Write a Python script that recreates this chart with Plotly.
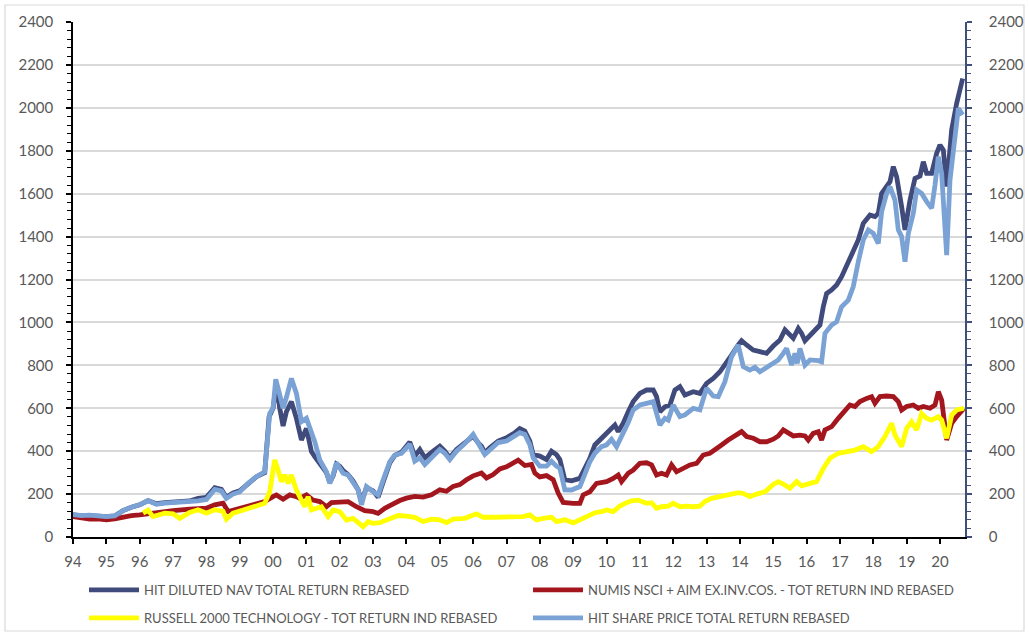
import plotly.graph_objects as go

# ---------------- data (fractional years) ----------------
nav_x = [1994.0, 1994.25, 1994.5, 1994.75, 1995.0, 1995.25, 1995.5, 1995.75, 1996.0, 1996.25, 1996.5, 1996.75,
         1997.0, 1997.25, 1997.5, 1997.75, 1998.0, 1998.25, 1998.45, 1998.6, 1998.8, 1999.0, 1999.25, 1999.5,
         1999.75, 1999.88, 2000.0, 2000.1, 2000.2, 2000.3, 2000.4, 2000.55, 2000.7, 2000.85, 2001.0, 2001.15,
         2001.25, 2001.4, 2001.6, 2001.7, 2001.8, 2001.9, 2002.0, 2002.1, 2002.25, 2002.4, 2002.55, 2002.65,
         2002.8, 2003.0, 2003.15, 2003.3, 2003.5, 2003.65, 2003.85, 2004.1, 2004.25, 2004.4, 2004.55, 2004.8,
         2005.0, 2005.15, 2005.3, 2005.5, 2005.75, 2006.0, 2006.15, 2006.25, 2006.35, 2006.5, 2006.75, 2007.0,
         2007.25, 2007.4, 2007.55, 2007.7, 2007.8, 2008.0, 2008.2, 2008.35, 2008.5, 2008.6, 2008.75, 2008.95,
         2009.2, 2009.35, 2009.5, 2009.65, 2009.85, 2010.0, 2010.15, 2010.25, 2010.35, 2010.5, 2010.65, 2010.8,
         2011.0, 2011.2, 2011.4, 2011.5, 2011.6, 2011.75, 2011.9, 2012.05, 2012.2, 2012.35, 2012.6, 2012.8,
         2013.0, 2013.2, 2013.4, 2013.55, 2013.75, 2013.95, 2014.05, 2014.2, 2014.4, 2014.6, 2014.8, 2015.0,
         2015.2, 2015.35, 2015.45, 2015.6, 2015.75, 2015.85, 2015.95, 2016.1, 2016.3, 2016.4, 2016.5, 2016.6,
         2016.75, 2016.9, 2017.05, 2017.25, 2017.4, 2017.55, 2017.7, 2017.9, 2018.05, 2018.15, 2018.25, 2018.4,
         2018.5, 2018.6, 2018.7, 2018.85, 2018.95, 2019.1, 2019.25, 2019.4, 2019.5, 2019.6, 2019.75, 2019.9,
         2020.0, 2020.1, 2020.2, 2020.35, 2020.5, 2020.68]
nav_y = [103, 98, 100, 96, 95, 98, 123, 139, 150, 170, 155, 160,
         163, 162, 168, 180, 185, 230, 222, 185, 205, 215, 250, 281,
         300, 560, 600, 716, 600, 517, 584, 631, 553, 452, 506, 398,
         374, 345, 300, 255, 285, 340, 330, 310, 290, 260, 220, 165,
         230, 215, 185, 255, 345, 380, 395, 442, 377, 408, 369, 400,
         423, 400, 369, 408, 439, 470, 439, 423, 392, 416, 447, 462,
         486, 505, 494, 447, 384, 377, 361, 400, 384, 361, 267, 262,
         273, 320, 367, 429, 460, 480, 506, 522, 491, 530, 584, 631,
         669, 685, 685, 654, 584, 607, 615, 685, 701, 662, 677, 669,
         716, 739, 770, 801, 848, 895, 915, 895, 871, 864, 856, 890,
         918, 965, 949, 926, 972, 949, 915, 941, 972, 988, 1073, 1135,
         1151, 1174, 1213, 1283, 1337, 1384, 1462, 1500, 1493, 1508, 1601, 1640,
         1656, 1726, 1679, 1539, 1431, 1570, 1671, 1682, 1749, 1695, 1695, 1788,
         1827, 1803, 1633, 1897, 2021, 2137]

numis_x = [1994.0, 1994.25, 1994.5, 1994.75, 1995.0, 1995.25, 1995.5, 1995.75, 1996.0, 1996.5, 1997.0, 1997.5,
           1998.0, 1998.25, 1998.5, 1998.65, 1999.0, 1999.5, 1999.75, 2000.0, 2000.1, 2000.3, 2000.5, 2000.7,
           2000.8, 2001.0, 2001.2, 2001.4, 2001.6, 2001.75, 2002.0, 2002.25, 2002.5, 2002.75, 2003.0, 2003.15,
           2003.35, 2003.6, 2003.8, 2004.0, 2004.25, 2004.5, 2004.75, 2005.0, 2005.2, 2005.4, 2005.6, 2005.8,
           2006.0, 2006.25, 2006.4, 2006.6, 2006.8, 2007.0, 2007.2, 2007.35, 2007.55, 2007.75, 2007.85, 2008.0,
           2008.2, 2008.4, 2008.55, 2008.7, 2009.0, 2009.2, 2009.3, 2009.5, 2009.7, 2010.0, 2010.2, 2010.35,
           2010.45, 2010.65, 2010.8, 2011.0, 2011.2, 2011.35, 2011.5, 2011.65, 2011.8, 2011.95, 2012.1, 2012.3,
           2012.5, 2012.7, 2012.9, 2013.1, 2013.25, 2013.45, 2013.65, 2013.9, 2014.05, 2014.2, 2014.4, 2014.6,
           2014.8, 2015.0, 2015.15, 2015.3, 2015.45, 2015.6, 2015.8, 2015.95, 2016.05, 2016.2, 2016.35, 2016.45,
           2016.55, 2016.75, 2016.95, 2017.15, 2017.3, 2017.45, 2017.6, 2017.8, 2017.95, 2018.05, 2018.2, 2018.4,
           2018.6, 2018.75, 2018.85, 2019.0, 2019.2, 2019.35, 2019.5, 2019.7, 2019.85, 2019.95, 2020.05, 2020.2,
           2020.35, 2020.5, 2020.72]
numis_y = [95, 88, 83, 85, 80, 85, 95, 100, 103, 114, 123, 130,
           134, 150, 158, 119, 134, 157, 165, 188, 196, 176, 196, 188,
           180, 196, 172, 165, 141, 160, 160, 165, 141, 123, 118, 110,
           134, 157, 170, 181, 189, 186, 197, 220, 213, 236, 244, 267,
           285, 298, 275, 291, 317, 327, 345, 358, 333, 338, 298, 280,
           286, 267, 205, 161, 157, 157, 196, 211, 250, 258, 273, 289,
           258, 297, 312, 343, 346, 336, 289, 297, 289, 336, 304, 320,
           336, 343, 382, 390, 405, 429, 452, 475, 491, 468, 460, 444,
           444, 456, 471, 499, 486, 471, 475, 471, 452, 483, 491, 452,
           499, 514, 553, 584, 615, 608, 631, 646, 654, 623, 654, 657,
           654, 631, 592, 608, 615, 600, 608, 600, 615, 677, 638, 452,
           530, 561, 600]

russell_x = [1996.1, 1996.25, 1996.4, 1996.75, 1997.0, 1997.2, 1997.5, 1997.75, 1998.0, 1998.25, 1998.5, 1998.6,
             1998.8, 1999.0, 1999.25, 1999.5, 1999.75, 1999.9, 2000.05, 2000.15, 2000.25, 2000.35, 2000.45, 2000.55,
             2000.7, 2000.85, 2000.95, 2001.05, 2001.15, 2001.3, 2001.45, 2001.65, 2001.8, 2002.0, 2002.2, 2002.4,
             2002.6, 2002.7, 2002.85, 2003.0, 2003.2, 2003.5, 2003.75, 2004.0, 2004.25, 2004.5, 2004.75, 2005.0,
             2005.2, 2005.4, 2005.75, 2006.1, 2006.3, 2006.6, 2007.0, 2007.25, 2007.5, 2007.7, 2007.9, 2008.1,
             2008.35, 2008.5, 2008.75, 2009.0, 2009.2, 2009.4, 2009.65, 2009.85, 2010.0, 2010.2, 2010.4, 2010.6,
             2010.75, 2010.95, 2011.2, 2011.35, 2011.5, 2011.65, 2011.85, 2012.0, 2012.2, 2012.4, 2012.6, 2012.8,
             2012.95, 2013.15, 2013.35, 2013.55, 2013.75, 2013.95, 2014.1, 2014.3, 2014.5, 2014.75, 2015.0, 2015.15,
             2015.3, 2015.5, 2015.7, 2015.85, 2016.1, 2016.3, 2016.5, 2016.7, 2016.95, 2017.2, 2017.45, 2017.7,
             2017.95, 2018.15, 2018.35, 2018.55, 2018.65, 2018.85, 2019.0, 2019.15, 2019.3, 2019.45, 2019.6, 2019.75,
             2019.95, 2020.05, 2020.2, 2020.35, 2020.5, 2020.72]
russell_y = [111, 125, 95, 111, 108, 87, 114, 127, 111, 127, 119, 83,
             111, 121, 134, 144, 157, 211, 359, 312, 258, 289, 250, 289,
             219, 172, 141, 188, 126, 134, 141, 95, 126, 118, 79, 87,
             56, 48, 71, 64, 67, 87, 100, 97, 92, 72, 83, 80,
             67, 83, 87, 108, 92, 92, 95, 98, 95, 103, 80, 87,
             92, 72, 80, 66, 82, 95, 113, 118, 126, 118, 144, 160,
             169, 172, 157, 160, 134, 141, 144, 157, 141, 144, 141, 144,
             165, 180, 188, 196, 203, 207, 203, 188, 200, 211, 245, 258,
             247, 227, 258, 238, 250, 258, 320, 367, 390, 398, 405, 421,
             398, 421, 468, 530, 475, 421, 506, 537, 499, 576, 553, 545,
             561, 545, 460, 569, 592, 600]

sp_x = [1994.0, 1994.25, 1994.5, 1994.75, 1995.0, 1995.25, 1995.5, 1995.75, 1996.0, 1996.25, 1996.5, 1996.75,
        1997.0, 1997.25, 1997.5, 1997.75, 1998.0, 1998.25, 1998.45, 1998.6, 1998.8, 1999.0, 1999.25, 1999.5,
        1999.75, 1999.9, 2000.0, 2000.08, 2000.2, 2000.3, 2000.4, 2000.55, 2000.7, 2000.85, 2001.0, 2001.15,
        2001.25, 2001.4, 2001.6, 2001.7, 2001.8, 2001.9, 2002.0, 2002.1, 2002.25, 2002.4, 2002.55, 2002.65,
        2002.8, 2003.0, 2003.15, 2003.3, 2003.5, 2003.65, 2003.85, 2004.1, 2004.25, 2004.4, 2004.55, 2004.8,
        2005.0, 2005.15, 2005.3, 2005.5, 2005.75, 2006.0, 2006.15, 2006.25, 2006.35, 2006.5, 2006.75, 2007.0,
        2007.25, 2007.4, 2007.55, 2007.7, 2007.8, 2008.0, 2008.2, 2008.35, 2008.5, 2008.6, 2008.75, 2008.95,
        2009.2, 2009.35, 2009.5, 2009.65, 2009.85, 2010.0, 2010.15, 2010.3, 2010.5, 2010.65, 2010.8, 2011.0,
        2011.2, 2011.4, 2011.5, 2011.6, 2011.75, 2011.85, 2012.0, 2012.2, 2012.35, 2012.6, 2012.8, 2013.0,
        2013.2, 2013.35, 2013.55, 2013.75, 2013.95, 2014.1, 2014.3, 2014.45, 2014.6, 2014.8, 2015.0, 2015.15,
        2015.3, 2015.4, 2015.55, 2015.65, 2015.72, 2015.8, 2015.95, 2016.1, 2016.35, 2016.45, 2016.55, 2016.75,
        2016.9, 2017.05, 2017.25, 2017.4, 2017.55, 2017.7, 2017.85, 2018.0, 2018.15, 2018.25, 2018.4, 2018.5,
        2018.65, 2018.75, 2018.85, 2018.95, 2019.05, 2019.2, 2019.3, 2019.45, 2019.6, 2019.75, 2019.85, 2019.95,
        2020.05, 2020.2, 2020.3, 2020.45, 2020.55, 2020.68]
sp_y = [105, 100, 102, 97, 95, 98, 123, 139, 150, 170, 152, 158,
        161, 160, 165, 168, 175, 222, 215, 180, 200, 210, 250, 281,
        304, 576, 600, 735, 662, 600, 651, 739, 669, 537, 553, 491,
        444, 359, 304, 250, 289, 346, 320, 297, 289, 258, 219, 150,
        235, 211, 196, 266, 351, 382, 390, 433, 353, 369, 338, 377,
        408, 390, 361, 400, 435, 478, 430, 410, 384, 405, 440, 447,
        470, 486, 478, 430, 369, 330, 330, 353, 330, 320, 220, 219,
        235, 289, 351, 390, 421, 429, 455, 421, 483, 533, 592, 615,
        623, 631, 576, 522, 553, 545, 615, 561, 569, 600, 592, 693,
        657, 654, 724, 840, 895, 794, 778, 791, 770, 791, 809, 825,
        856, 879, 801, 856, 809, 879, 801, 825, 822, 817, 949, 988,
        1003, 1073, 1104, 1167, 1283, 1384, 1431, 1415, 1368, 1516, 1601, 1633,
        1570, 1431, 1400, 1283, 1415, 1508, 1617, 1601, 1563, 1532, 1640, 1772,
        1695, 1314, 1664, 1897, 1998, 1967]

series_names = ["HIT DILUTED NAV TOTAL RETURN REBASED",
                "NUMIS NSCI + AIM EX.INV.COS. - TOT RETURN IND REBASED",
                "RUSSELL 2000 TECHNOLOGY - TOT RETURN IND REBASED",
                "HIT SHARE PRICE TOTAL RETURN REBASED"]
series_colors = ["#404A7B", "#A3161D", "#FFFF00", "#7BA2D5"]

tick_years = list(range(1994, 2021))
tick_labels = ["94", "95", "96", "97", "98", "99", "00", "01", "02", "03", "04", "05", "06", "07",
               "08", "09", "10", "11", "12", "13", "14", "15", "16", "17", "18", "19", "20"]
y_ticks = list(range(0, 2401, 200))

# ---------------- figure ----------------
FONT = "Lato, 'Liberation Sans', sans-serif"
GREY = "#595959"

W, H = 1029, 636
L, R, T, B = 73, 965, 22, 537
pw, ph = R - L, B - T

def px(xp):
    return (xp - L) / pw

def py(yp):
    return (B - yp) / ph

legend_ids = ["legend", "legend2", "legend3", "legend4"]
# legend slot positions (left x of legend box, vertical centre), in page pixels
legend_pos = [(84, 590), (528, 590), (84, 618), (528, 618)]

fig = go.Figure()
xs = [nav_x, numis_x, russell_x, sp_x]
ys = [nav_y, numis_y, russell_y, sp_y]
for i, (xv, yv) in enumerate(zip(xs, ys)):
    fig.add_trace(go.Scatter(
        x=xv, y=yv, mode="lines", name=series_names[i],
        line=dict(color=series_colors[i], width=4.8),
        yaxis="y2" if i == 3 else "y",
        legend=legend_ids[i],
    ))

legends = {}
for lid, (lx, ly) in zip(legend_ids, legend_pos):
    legends[lid] = dict(
        x=px(lx), y=py(ly), xanchor="left", yanchor="middle", orientation="h",
        font=dict(family=FONT, size=13, color=GREY),
        bgcolor="rgba(0,0,0,0)", itemwidth=50, borderwidth=0,
    )

fig.update_layout(
    width=W, height=H,
    margin=dict(l=L, r=W - R, t=T, b=H - B, pad=0, autoexpand=False),
    paper_bgcolor="white", plot_bgcolor="white",
    font=dict(family=FONT, color=GREY, size=15),
    showlegend=True,
    **legends,
    xaxis=dict(
        range=[1994, 2020.75], tickmode="array", tickvals=tick_years, ticktext=tick_labels,
        showgrid=False, zeroline=False, showline=True, linecolor="black", linewidth=1.5,
        ticks="outside", ticklen=5, tickcolor="black", tickwidth=1.5,
        tickfont=dict(size=15, color=GREY), ticklabelstandoff=5,
    ),
    yaxis=dict(
        range=[0, 2400], tickmode="array", tickvals=y_ticks,
        showgrid=True, gridcolor="#D9D9D9", gridwidth=1.5, zeroline=False,
        showline=True, linecolor="black", linewidth=1.5,
        ticks="outside", ticklen=5, tickcolor="black", tickwidth=1.5,
        minor=dict(dtick=40, tick0=0, ticks="outside", ticklen=4, tickcolor="black", tickwidth=1.2, showgrid=False),
        tickfont=dict(size=15, color=GREY), ticklabelstandoff=10,
    ),
    yaxis2=dict(
        range=[0, 2400], tickmode="array", tickvals=y_ticks, overlaying="y", side="right",
        showgrid=False, zeroline=False, showline=True, linecolor="#404E7C", linewidth=1.5,
        ticks="outside", ticklen=5, tickcolor="#404E7C", tickwidth=1.5,
        minor=dict(dtick=40, tick0=0, ticks="outside", ticklen=4, tickcolor="#404E7C", tickwidth=1.2, showgrid=False),
        tickfont=dict(size=15, color=GREY), ticklabelstandoff=14,
    ),
    shapes=[dict(type="rect", xref="paper", yref="paper",
                 x0=px(5), x1=px(1024), y0=py(631), y1=py(5),
                 line=dict(color="#D9D9D9", width=1.2), fillcolor="rgba(0,0,0,0)", layer="below")],
)

# remove the browser's default 8px body margin so the figure sits at the page origin
fig.write_html("out.html", config={"displayModeBar": False},
               post_script="document.body.style.margin='0';")
